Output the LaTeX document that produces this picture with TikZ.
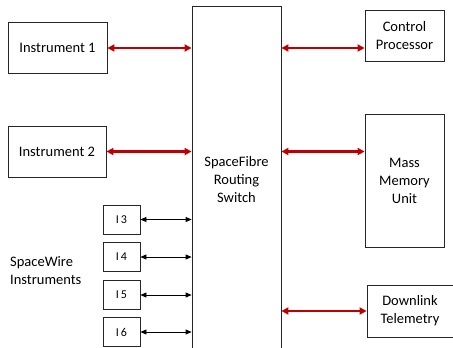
\documentclass[tikz,border=0pt]{standalone}
\usepackage{fontspec}
\setmainfont{Carlito}
\usetikzlibrary{arrows.meta}

\begin{document}
\begin{tikzpicture}[x=1bp,y=-1bp,
  box/.style={draw=black!85, line width=0.8bp, align=center,
    inner sep=0pt, font=\fontsize{14.5bp}{18bp}\selectfont},
  swbox/.style={box, minimum width=37bp, minimum height=29bp,
    font=\fontsize{12bp}{14bp}\selectfont},
  fibre/.style={draw={rgb,255:red,192;green,0;blue,0}, line width=2.2bp,
    {Triangle[length=7bp,width=7bp]}-{Triangle[length=7bp,width=7bp]}},
  wire/.style={draw=black, line width=0.8bp,
    {Triangle[length=6bp,width=5bp]}-{Triangle[length=6bp,width=5bp]}}]
\useasboundingbox (0,0) rectangle (453,347);

% routing switch in the middle, runs off the bottom
\node[box, minimum width=89bp, minimum height=348bp] (switch) at (236.5,180)
  {SpaceFibre\\Routing\\Switch};

% SpaceFibre units
\node[box, minimum width=99bp, minimum height=51bp] (ins1) at (57.5,48) {Instrument 1};
\node[box, minimum width=98bp, minimum height=51bp] (ins2) at (57,151.5) {Instrument 2};
\node[box, minimum width=79bp, minimum height=51bp] (cpu) at (404.5,35.5) {Control\\Processor};
\node[box, minimum width=79bp, minimum height=133bp] (mmu) at (404.5,180.5) {Mass\\Memory\\Unit};
\node[box, minimum width=86bp, minimum height=52bp] (tm) at (410,311) {Downlink\\Telemetry};

% SpaceWire instruments
\node[swbox] (i3) at (121.5,219.5) {I\,3};
\node[swbox] (i4) at (121.5,257) {I\,4};
\node[swbox] (i5) at (121.5,295) {I\,5};
\node[swbox] (i6) at (121.5,332) {I\,6};
\node[anchor=west, align=left, inner sep=0pt,
  font=\fontsize{14.5bp}{18bp}\selectfont] (swlabel) at (10,271)
  {SpaceWire\\Instruments};

% links
\draw[fibre] (ins1.east) -- (ins1.east -| switch.west);
\draw[fibre] (ins2.east) -- (ins2.east -| switch.west);
\draw[fibre] (switch.east |- ins1.east) -- (mmu.west |- ins1.east);
\draw[fibre] (switch.east |- ins2.east) -- (mmu.west |- ins2.east);
\draw[fibre] (tm.west -| switch.east) -- (tm.west);

\foreach \i in {i3,i4,i5,i6}
  \draw[wire] (\i.east) -- (\i.east -| switch.west);
\end{tikzpicture}
\end{document}
